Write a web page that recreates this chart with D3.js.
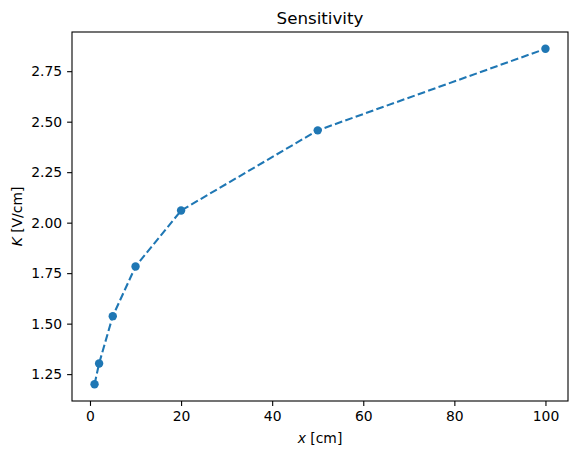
<!DOCTYPE html>
<html>
<head>
<meta charset="utf-8">
<script src="https://cdn.jsdelivr.net/npm/d3@7"></script>
<style>
  body { margin: 0; background: #fff; }
  text { font-family: "DejaVu Sans", sans-serif; fill: #000; }
</style>
</head>
<body>
<div id="chart"></div>
<script>
// distances and sensitivity
var xValues = [1, 2, 5, 10, 20, 50, 100];
var kValues = [1.20, 1.303, 1.537, 1.783, 2.06, 2.457, 2.861];
var xTicks = [0, 20, 40, 60, 80, 100];
var yTicks = [1.25, 1.50, 1.75, 2.00, 2.25, 2.50, 2.75];

var svgWidth = 578;
var svgHeight = 457;

var margin = { top: 32, right: 10, bottom: 56, left: 72 };
var width = svgWidth - margin.left - margin.right;
var height = svgHeight - margin.top - margin.bottom;

var svg = d3.select("#chart")
    .append("svg")
    .attr("width", svgWidth)
    .attr("height", svgHeight);

var g = svg.append("g")
    .attr("transform", `translate(${margin.left}, ${margin.top})`);

// matplotlib style 5% padding
var xPad = (d3.max(xValues) - d3.min(xValues)) * 0.05;
var yPad = (d3.max(kValues) - d3.min(kValues)) * 0.05;

var xScale = d3.scaleLinear()
    .domain([d3.min(xValues) - xPad, d3.max(xValues) + xPad])
    .range([0, width]);

var yScale = d3.scaleLinear()
    .domain([d3.min(kValues) - yPad, d3.max(kValues) + yPad])
    .range([height, 0]);

var xAxis = d3.axisBottom(xScale)
    .tickValues(xTicks)
    .tickSize(4.9)
    .tickPadding(5)
    .tickFormat(d3.format("d"));

var yAxis = d3.axisLeft(yScale)
    .tickValues(yTicks)
    .tickSize(4.9)
    .tickPadding(5)
    .tickFormat(d3.format(".2f"));

var xg = g.append("g")
    .attr("transform", `translate(0, ${height})`)
    .call(xAxis);

var yg = g.append("g")
    .call(yAxis);

[xg, yg].forEach(function(a) {
    a.select(".domain").remove();
    a.selectAll(".tick line").attr("stroke", "#000").attr("stroke-width", 1.1);
    a.selectAll(".tick text")
        .style("font-family", "DejaVu Sans")
        .style("font-size", "13.9px")
        .attr("fill", "#000");
});

// frame
g.append("rect")
    .attr("width", width)
    .attr("height", height)
    .attr("fill", "none")
    .attr("stroke", "#000")
    .attr("stroke-width", 1.1);

var line = d3.line()
    .x((d, i) => xScale(d))
    .y((d, i) => yScale(kValues[i]));

g.append("path")
    .datum(xValues)
    .attr("d", line)
    .attr("fill", "none")
    .attr("stroke", "#1f77b4")
    .attr("stroke-width", 2.08)
    .attr("stroke-dasharray", "7.7,3.3");

g.selectAll("circle")
    .data(xValues)
    .enter()
    .append("circle")
    .attr("cx", d => xScale(d))
    .attr("cy", (d, i) => yScale(kValues[i]))
    .attr("r", 4.2)
    .attr("fill", "#1f77b4");

svg.append("text")
    .attr("x", margin.left + width / 2)
    .attr("y", 24)
    .attr("text-anchor", "middle")
    .style("font-size", "16.7px")
    .text("Sensitivity");

var xl = svg.append("text")
    .attr("x", margin.left + width / 2)
    .attr("y", 443)
    .attr("text-anchor", "middle")
    .style("font-size", "13.9px");
xl.append("tspan").style("font-style", "italic").text("x");
xl.append("tspan").text(" [cm]");

var yl = svg.append("text")
    .attr("transform", `translate(22, ${margin.top + height / 2}) rotate(-90)`)
    .attr("text-anchor", "middle")
    .style("font-size", "13.9px");
yl.append("tspan").style("font-style", "italic").text("K");
yl.append("tspan").text(" [V/cm]");
</script>
</body>
</html>
